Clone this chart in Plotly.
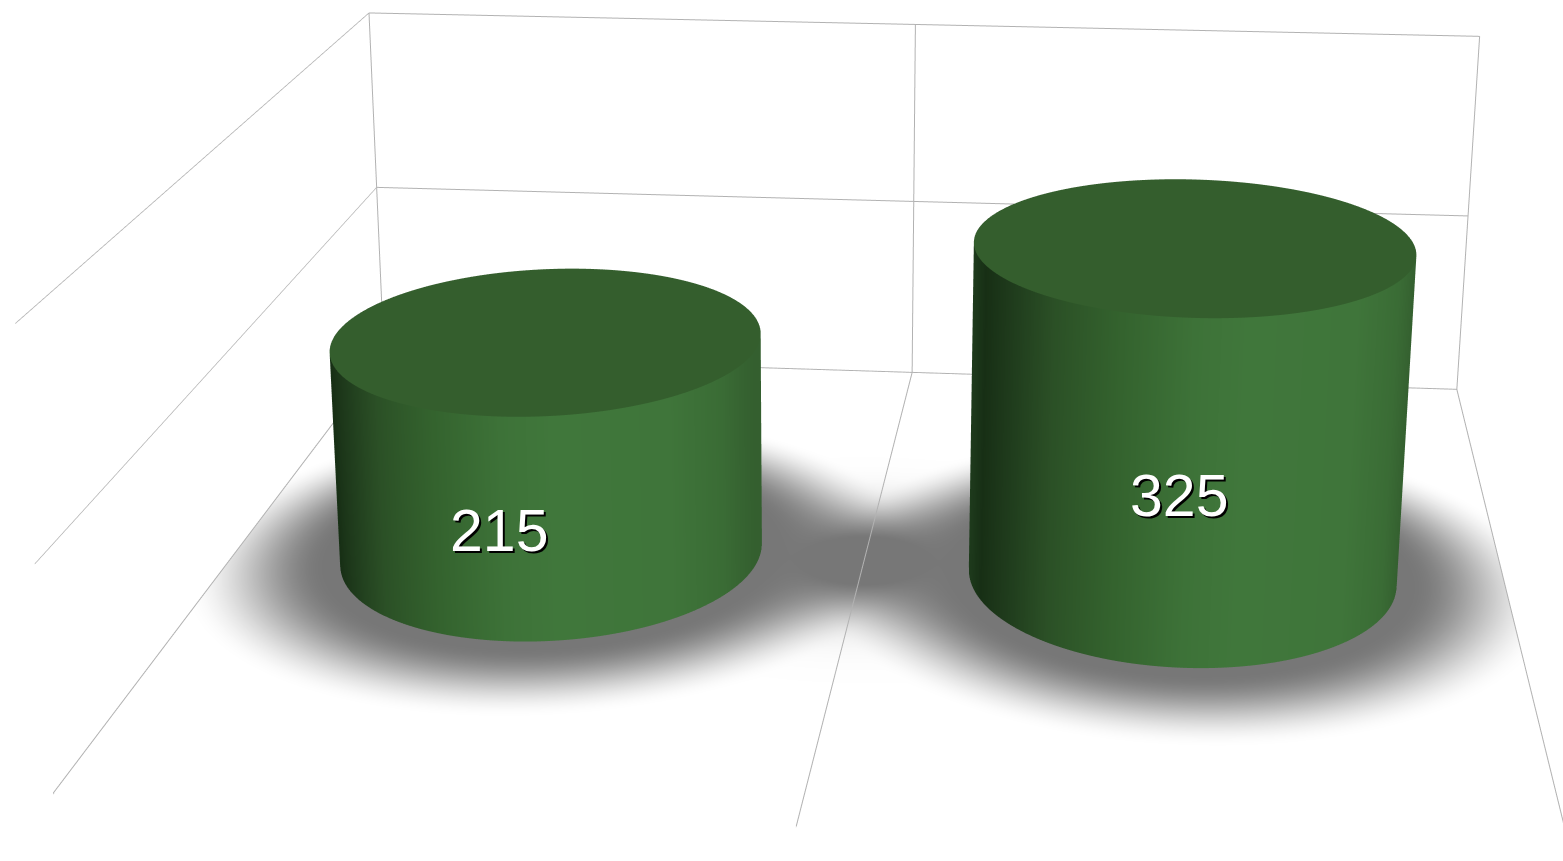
import numpy as np
import plotly.graph_objects as go

# chart data
categories = ["A", "B"]
values = [215, 325]
x_ticks = [0, 1, 2]
z_ticks = [0, 200, 400]
bar_x = [0.5, 1.5]
bar_y = 0.5
label_shift = [(-51, -87), (-8, -86)]

# geometry / style
RX, RY = 1 / 3, 0.2
GRID = "#b2b2b2"
TOP = "#345e2d"
SIDE = [[0, "#1f3c1d"], [0.04, "#172f15"], [0.1, "#1f3b1c"], [0.2, "#2b5026"], [0.35, "#34632e"], [0.5, "#3d7238"],
        [0.62, "#40773b"], [0.85, "#3f753a"], [0.95, "#3a6c35"], [1, "#345f2f"]]
NOLIGHT = dict(ambient=1, diffuse=0, specular=0, roughness=1, fresnel=0)
FW, FH = 1638, 2796
TOP_OFFSET = 454 - FH / 2

fig = go.Figure()

# soft floor shadow: one pool per bar, merged where they meet
gx = np.linspace(0, 2, 500)
gy = np.linspace(0, 1, 300)
GX, GY = np.meshgrid(gx, gy)
clear = np.ones_like(GX)
for cx in bar_x:
    d = np.sqrt(((GX - cx) / RX) ** 2 + ((GY - bar_y) / RY) ** 2)
    s = np.clip((1.72 - d) / 0.66, 0, 1)
    clear = clear * (1 - s * s * (3 - 2 * s))
bridge = np.minimum(1.3 * np.exp(-((GX - np.mean(bar_x)) / 0.2) ** 2 - ((GY - bar_y) / 0.105) ** 2), 1)
shade = 1 - clear * (1 - bridge)
fig.add_trace(go.Surface(x=gx, y=gy, z=np.full_like(GX, -0.5), surfacecolor=shade, cmin=0, cmax=1,
                         colorscale=[[0, "#ffffff"], [1, "#777777"]], showscale=False, hoverinfo="skip",
                         lighting=NOLIGHT))

# floor grid over the shadow
for t in x_ticks:
    fig.add_trace(go.Scatter3d(x=[t, t], y=[0, 1], z=[0, 0], mode="lines", hoverinfo="skip",
                               line=dict(color=GRID, width=2), showlegend=False))

# cylinders
N = 180
ang = np.linspace(0, 2 * np.pi, N, endpoint=False)
for cx, val in zip(bar_x, values):
    rx = cx + RX * np.cos(ang)
    ry = bar_y + RY * np.sin(ang)
    u = (1 + np.cos(ang)) / 2
    idx = np.arange(N)
    nxt = (idx + 1) % N
    fig.add_trace(go.Mesh3d(
        x=np.r_[rx, rx], y=np.r_[ry, ry], z=np.r_[np.zeros(N), np.full(N, val)],
        i=np.r_[idx, nxt], j=np.r_[nxt, nxt + N], k=np.r_[idx + N, idx + N],
        intensity=np.r_[u, u], cmin=0, cmax=1, colorscale=SIDE, showscale=False,
        hoverinfo="skip", lighting=NOLIGHT, flatshading=False))
    fig.add_trace(go.Mesh3d(
        x=np.r_[cx, rx], y=np.r_[bar_y, ry], z=np.full(N + 1, val),
        i=np.zeros(N, int), j=idx + 1, k=nxt + 1,
        color=TOP, hoverinfo="skip", lighting=NOLIGHT))

axis = dict(showbackground=False, showticklabels=False, ticks="", title="", showline=False,
            zeroline=False, showspikes=False, gridcolor=GRID, gridwidth=2)
annotations = [dict(x=cx, y=bar_y, z=val / 2, text=str(val), showarrow=False,
                    xshift=sx, yshift=sy, xanchor="center", yanchor="middle",
                    font=dict(family="Liberation Sans, Arial", size=59, color="#ffffff",
                              shadow="2px 2px 0px #000000"))
               for cx, val, (sx, sy) in zip(bar_x, values, label_shift)]

fig.update_layout(
    width=FW, height=FH, autosize=False, margin=dict(l=0, r=0, t=0, b=0, pad=0),
    paper_bgcolor="#ffffff", showlegend=False,
    scene=dict(
        domain=dict(x=[0, 1], y=[0, 1]), bgcolor="#ffffff",
        xaxis=dict(axis, range=[0, 2], tickmode="array", tickvals=x_ticks),
        yaxis=dict(axis, range=[0, 1], showgrid=False, tickmode="array", tickvals=[]),
        zaxis=dict(axis, range=[-1, 400], tickmode="array", tickvals=z_ticks),
        aspectmode="manual", aspectratio=dict(x=1, y=0.98798, z=0.3286),
        camera=dict(eye=dict(x=0.22125, y=-2.49192, z=0.78472),
                    center=dict(x=-0.0133, y=-0.22041, z=0),
                    up=dict(x=-0.00131, y=0, z=1)),
        annotations=annotations),
)

post = f"""
document.documentElement.style.overflow='hidden';
document.body.style.overflow='hidden';
document.body.style.margin='0';
var gd=document.getElementById('{{plot_id}}');
gd.style.position='absolute';gd.style.left='0px';gd.style.top='{TOP_OFFSET}px';
"""
fig.write_html("out.html", post_script=post, config=dict(displayModeBar=False, responsive=False))
